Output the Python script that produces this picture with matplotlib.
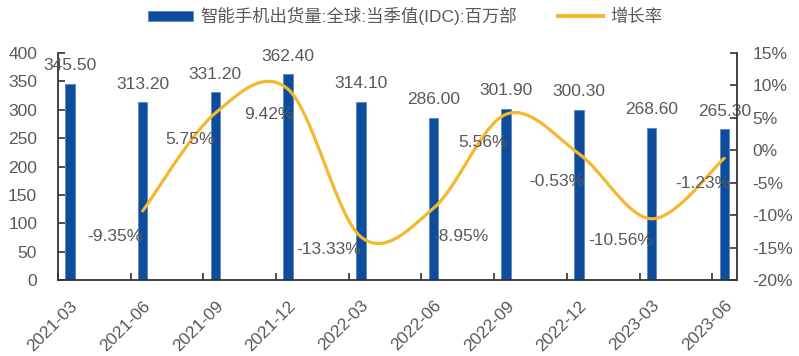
import numpy as np
import matplotlib
matplotlib.use("Agg")
import matplotlib.pyplot as plt
from matplotlib.patches import Patch
from matplotlib.lines import Line2D

categories = ["2021-03", "2021-06", "2021-09", "2021-12", "2022-03",
              "2022-06", "2022-09", "2022-12", "2023-03", "2023-06"]
shipments = [345.50, 313.20, 331.20, 362.40, 314.10, 286.00, 301.90, 300.30, 268.60, 265.30]
growth = [None, -9.35, 5.75, 9.42, -13.33, -8.95, 5.56, -0.53, -10.56, -1.23]

bar_label = "智能手机出货量:全球:当季值(IDC):百万部"
line_label = "增长率"

BLUE = "#0E4C9C"
GOLD = "#F4B82C"
GRAY = "#595959"
FS = 12.5

plt.rcParams["font.family"] = ["Liberation Sans", "Noto Sans CJK SC", "DejaVu Sans"]

fig = plt.figure(figsize=(7.99, 3.56), dpi=100)
ax = fig.add_axes([58/799, 1-280/356, (737-58)/799, (280-53)/356])
ax2 = ax.twinx()

n = len(categories)
off = 0.165
xb = np.arange(n) + off

ax.bar(xb, shipments, width=0.13, color=BLUE, edgecolor="#5A86C6", linewidth=0.6, zorder=2)
for x, v in zip(xb, shipments):
    ax.annotate(f"{v:.2f}", (x, v), xytext=(0, 18), textcoords="offset pixels",
                ha="center", va="center", fontsize=FS, color=GRAY, zorder=5)

ax.set_xlim(0, 9.34)
ax.set_ylim(0, 400)
ax.set_yticks(np.arange(0, 401, 50))
ax.set_xticks(np.arange(n))
ax.set_xticklabels([])
ax.set_xticks(xb, minor=True)
ax.set_xticklabels(categories, minor=True, rotation=45, ha="right", va="top",
                   rotation_mode="anchor", fontsize=FS, color=GRAY)
ax.tick_params(axis="x", which="minor", length=0, pad=13)
ax.tick_params(axis="x", which="major", direction="in", length=5, width=1.2, color="#333333")
ax.tick_params(axis="y", direction="in", length=5, width=1.2, color="#333333",
               labelsize=FS, labelcolor=GRAY, pad=15)

ax2.set_ylim(-20, 15)
ax2.set_yticks(np.arange(-20, 16, 5))
ax2.set_yticklabels([f"{t}%" for t in range(-20, 16, 5)])
ax2.tick_params(axis="y", direction="in", length=5, width=1.2, color="#333333",
                labelsize=FS, labelcolor=GRAY, pad=11)

for a in (ax, ax2):
    a.spines["top"].set_visible(False)
    for s in ("left", "right", "bottom"):
        a.spines[s].set_color("#333333")
        a.spines[s].set_linewidth(1.3)
ax.spines["right"].set_visible(False)
ax2.spines["left"].set_visible(False)
ax2.spines["bottom"].set_visible(False)

# smoothed line (Catmull-Rom style Bezier, as in Excel)
gx = np.array([xb[i] for i in range(n) if growth[i] is not None])
gy = np.array([g for g in growth if g is not None])
P = np.column_stack([gx, gy])
m = len(P)
pts = []
for i in range(m - 1):
    p0 = P[max(i - 1, 0)]
    p1 = P[i]
    p2 = P[i + 1]
    p3 = P[min(i + 2, m - 1)]
    c1 = p1 + (p2 - p0) / 6.0
    c2 = p2 - (p3 - p1) / 6.0
    t = np.linspace(0, 1, 40)[:, None]
    seg = ((1 - t) ** 3) * p1 + 3 * ((1 - t) ** 2) * t * c1 + 3 * (1 - t) * t ** 2 * c2 + t ** 3 * p2
    pts.append(seg if i == 0 else seg[1:])
curve = np.vstack(pts)
ax2.plot(curve[:, 0], curve[:, 1], color=GOLD, lw=2.3, solid_capstyle="round", zorder=3)

label_offsets = [(-28, -26), (-25, -27), (-19, -25), (-32, -13), (27, -28),
                 (-23, -28), (-22, -28), (-31, -22), (-21, -25)]
for (x, y), (dx, dy) in zip(P, label_offsets):
    ax2.annotate(f"{y:.2f}%", (x, y), xytext=(dx, dy), textcoords="offset pixels",
                 ha="center", va="center", fontsize=FS, color=GRAY, zorder=6)

handles = [Patch(facecolor=BLUE, edgecolor="#5A86C6", linewidth=0.6),
           Line2D([], [], color=GOLD, lw=2.8)]
fig.legend(handles, [bar_label, line_label], loc="upper center",
           bbox_to_anchor=(0.507, 1.025), ncol=2, frameon=False, fontsize=12.5,
           labelcolor=GRAY, handlelength=2.6, handleheight=0.5, handletextpad=0.4,
           columnspacing=2.4)

fig.savefig("out.png", dpi=100)
